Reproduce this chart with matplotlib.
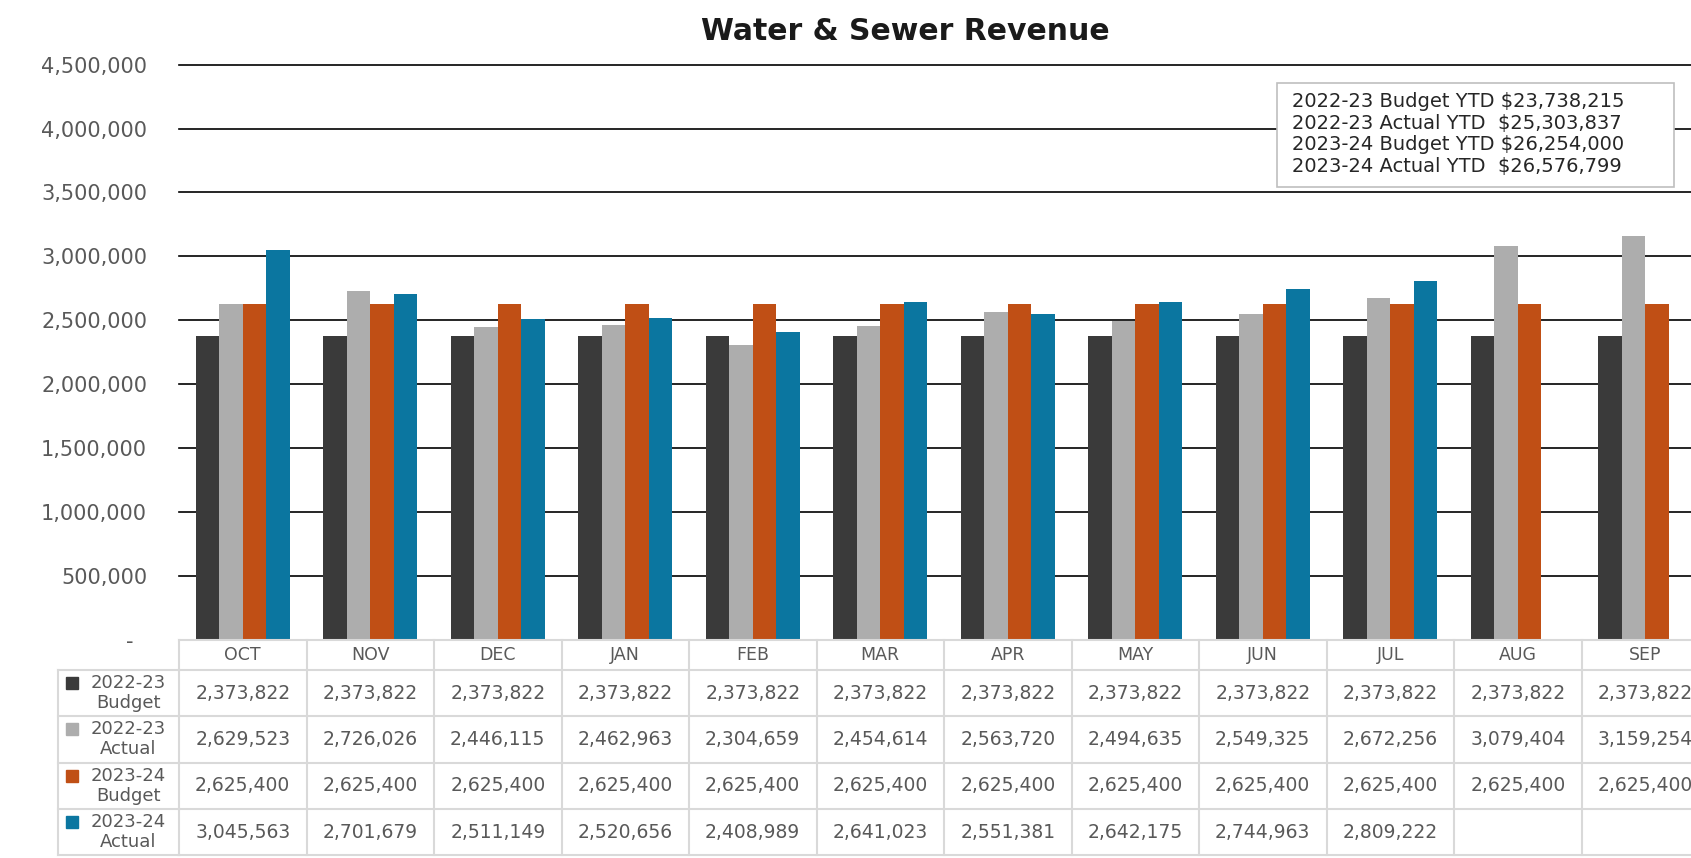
import matplotlib.pyplot as plt
import matplotlib.transforms as mtransforms
from matplotlib.patches import Rectangle
from matplotlib.lines import Line2D

# data
months = ['OCT', 'NOV', 'DEC', 'JAN', 'FEB', 'MAR', 'APR', 'MAY', 'JUN', 'JUL', 'AUG', 'SEP']
budget_2223 = [2373822, 2373822, 2373822, 2373822, 2373822, 2373822,
               2373822, 2373822, 2373822, 2373822, 2373822, 2373822]
actual_2223 = [2629523, 2726026, 2446115, 2462963, 2304659, 2454614,
               2563720, 2494635, 2549325, 2672256, 3079404, 3159254]
budget_2324 = [2625400, 2625400, 2625400, 2625400, 2625400, 2625400,
               2625400, 2625400, 2625400, 2625400, 2625400, 2625400]
actual_2324 = [3045563, 2701679, 2511149, 2520656, 2408989, 2641023,
               2551381, 2642175, 2744963, 2809222, None, None]
series_names = ['2022-23\nBudget', '2022-23\nActual', '2023-24\nBudget', '2023-24\nActual']
series_colors = ['#3a3a3a', '#adadad', '#c04f15', '#0b76a0']
yticks = [0, 500000, 1000000, 1500000, 2000000, 2500000, 3000000, 3500000, 4000000, 4500000]
ytd_lines = ['2022-23 Budget YTD $23,738,215',
             '2022-23 Actual YTD  $25,303,837',
             '2023-24 Budget YTD $26,254,000',
             '2023-24 Actual YTD  $26,576,799']

W, H = 1691, 858
fig = plt.figure(figsize=(W / 100, H / 100), dpi=100)

# axes pixel box (left, right, top, bottom)
AL, AR, AT, AB = 179, 1709, 64.7, 639.5
ax = fig.add_axes([AL / W, 1 - AB / H, (AR - AL) / W, (AB - AT) / H])

def fy(py):
    return 1 - py / H

def fx(px):
    return px / W

all_series = [budget_2223, actual_2223, budget_2324, actual_2324]
bw = 0.184
for k, (vals, col) in enumerate(zip(all_series, series_colors)):
    xs = [i + (k - 1.5) * bw for i, v in enumerate(vals) if v is not None]
    hs = [v for v in vals if v is not None]
    ax.bar(xs, hs, width=bw, color=col, zorder=2)

ax.set_xlim(-0.5, len(months) - 0.5)
ax.set_ylim(0, 4500000)
ax.set_yticks(yticks)
ax.set_yticklabels(['-\u2007'] + ['{:,}'.format(v) for v in yticks[1:]])
ax.tick_params(axis='y', length=0, pad=23, labelsize=15, labelcolor='#595959')
ax.set_xticks([])
for s in ax.spines.values():
    s.set_visible(False)
ax.set_axisbelow(True)
ax.yaxis.grid(True, color='black', lw=1.2)
for gl in ax.get_ygridlines():
    gl.set_clip_on(False)
ax.get_ygridlines()[0].set_visible(False)

# data table under the chart
grid_c = '#d9d9d9'
txt_c = '#595959'
trans = mtransforms.blended_transform_factory(ax.transData, fig.transFigure)
row_y = [639.5, 670, 716.3, 762.6, 808.9, 855.2]
x_end = len(months) - 0.5

ax.add_line(Line2D([-0.5, x_end], [fy(row_y[0])] * 2, transform=trans, color=grid_c, lw=1.5, clip_on=False))
for yy in row_y[1:]:
    fig.add_artist(Line2D([fx(58), fx(AL)], [fy(yy)] * 2, color=grid_c, lw=1.5))
    ax.add_line(Line2D([-0.5, x_end], [fy(yy)] * 2, transform=trans, color=grid_c, lw=1.5, clip_on=False))
for i in range(len(months) + 1):
    ax.add_line(Line2D([i - 0.5, i - 0.5], [fy(row_y[0]), fy(row_y[-1])], transform=trans,
                       color=grid_c, lw=1.5, clip_on=False))
fig.add_artist(Line2D([fx(58), fx(58)], [fy(row_y[1]), fy(row_y[-1])], color=grid_c, lw=1.5))

for i, m in enumerate(months):
    ax.text(i, fy((row_y[0] + row_y[1]) / 2), m, transform=trans, ha='center', va='center',
            fontsize=12.5, color=txt_c)

for r, (vals, name, col) in enumerate(zip(all_series, series_names, series_colors)):
    yc = (row_y[r + 1] + row_y[r + 2]) / 2
    for i, v in enumerate(vals):
        if v is None:
            continue
        ax.text(i, fy(yc), '{:,}'.format(v), transform=trans, ha='center', va='center',
                fontsize=13.5, color=txt_c, clip_on=False)
    top, bot = name.split('\n')
    fig.text(fx(128), fy(yc - 10), top, ha='center', va='center', fontsize=13, color=txt_c)
    fig.text(fx(128), fy(yc + 10), bot, ha='center', va='center', fontsize=13, color=txt_c)
    fig.add_artist(Rectangle((fx(66), fy(yc - 4)), 12 / W, 12 / H, color=col))

# title
fig.text(fx(905), fy(32), 'Water & Sewer Revenue', ha='center', va='center',
         fontsize=21.5, fontweight='bold', color='#1a1a1a')

# YTD text box
fig.add_artist(Rectangle((fx(1277), fy(187)), (1674 - 1277) / W, (187 - 83) / H,
                         facecolor='white', edgecolor='#bfbfbf', lw=1.2))
for j, line in enumerate(ytd_lines):
    fig.text(fx(1292), fy(101.5 + j * 21.7), line, ha='left', va='center',
             fontsize=14, color='#262626')

fig.savefig('out.png', dpi=100)
